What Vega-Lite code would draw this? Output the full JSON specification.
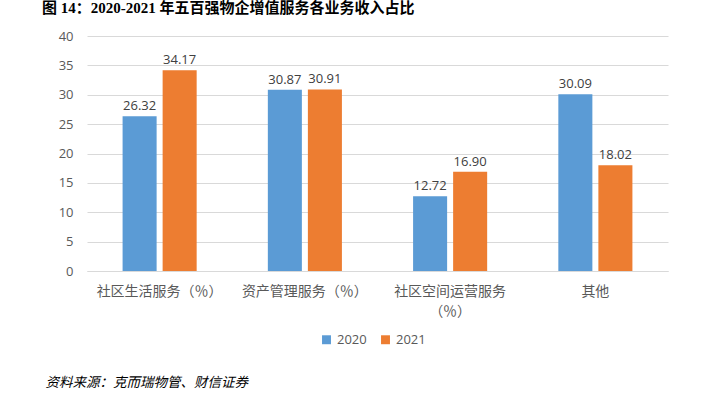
{
  "$schema": "https://vega.github.io/schema/vega-lite/v6.json",
  "autosize": "none",
  "width": 581,
  "height": 235,
  "padding": {"left": 87, "top": 36, "right": 47, "bottom": 126},
  "background": "white",
  "title": {
    "text": "图 14：2020-2021 年五百强物企增值服务各业务收入占比",
    "anchor": "start",
    "frame": "group",
    "dx": -45,
    "offset": 22,
    "dy": 8,
    "font": "Liberation Serif, Noto Sans CJK SC",
    "fontSize": 15,
    "fontWeight": "bold",
    "color": "#000000"
  },
  "data": {
    "values": [
      {"cat": "社区生活服务（％）", "year": "2020", "v": 26.32},
      {"cat": "社区生活服务（％）", "year": "2021", "v": 34.17},
      {"cat": "资产管理服务（％）", "year": "2020", "v": 30.87},
      {"cat": "资产管理服务（％）", "year": "2021", "v": 30.91},
      {"cat": "社区空间运营服务（％）", "year": "2020", "v": 12.72},
      {"cat": "社区空间运营服务（％）", "year": "2021", "v": 16.90},
      {"cat": "其他", "year": "2020", "v": 30.09},
      {"cat": "其他", "year": "2021", "v": 18.02}
    ]
  },
  "encoding": {
    "x": {
      "field": "cat", "type": "nominal", "sort": null,
      "scale": {"paddingInner": 0.49, "paddingOuter": 0.245},
      "axis": {
        "title": "资料来源：克而瑞物管、财信证券",
        "titleFont": "Noto Sans CJK SC",
        "titleFontStyle": "italic",
        "titleFontWeight": "normal",
        "titleFontSize": 13.5,
        "titleColor": "#000000",
        "titleAnchor": "start",
        "titleAlign": "left",
        "titleBaseline": "alphabetic",
        "titleX": -42,
        "titleY": 115,
        "labelAngle": 0,
        "labelFont": "Noto Sans CJK SC",
        "labelFontSize": 14,
        "labelColor": "#595959",
        "labelPadding": 13,
        "labelLimit": 200,
        "labelLineHeight": 20,
        "labelExpr": "datum.label == '社区空间运营服务（％）' ? ['社区空间运营服务', '（％）'] : datum.label",
        "ticks": false,
        "domainColor": "#d9d9d9",
        "grid": false
      }
    },
    "xOffset": {"field": "year", "type": "nominal", "scale": {"paddingInner": 0.15, "paddingOuter": 0}},
    "y": {
      "field": "v", "type": "quantitative",
      "scale": {"domain": [0, 40], "nice": false},
      "axis": {
        "title": null,
        "values": [0, 5, 10, 15, 20, 25, 30, 35, 40],
        "labelFont": "Open Sans",
        "labelFontSize": 13,
        "labelColor": "#595959",
        "labelPadding": 14,
        "ticks": false,
        "domain": false,
        "gridColor": "#d9d9d9"
      }
    },
    "color": {
      "field": "year", "type": "nominal",
      "scale": {"domain": ["2020", "2021"], "range": ["#5b9bd5", "#ed7d31"]},
      "legend": {
        "title": null,
        "orient": "none",
        "direction": "horizontal",
        "legendX": 233,
        "legendY": 297,
        "symbolType": "square",
        "symbolSize": 80,
        "symbolStrokeWidth": 0,
        "labelFont": "Open Sans",
        "labelFontSize": 13,
        "labelColor": "#595959",
        "columnPadding": 12,
        "labelOffset": 4
      }
    }
  },
  "layer": [
    {"mark": {"type": "bar"}},
    {
      "mark": {"type": "text", "dy": -10, "font": "Open Sans", "fontSize": 13, "color": "#404040"},
      "encoding": {"text": {"field": "v", "type": "quantitative", "format": ".2f"}, "color": {"value": "#404040"}}
    }
  ],
  "config": {"view": {"stroke": null}}
}
